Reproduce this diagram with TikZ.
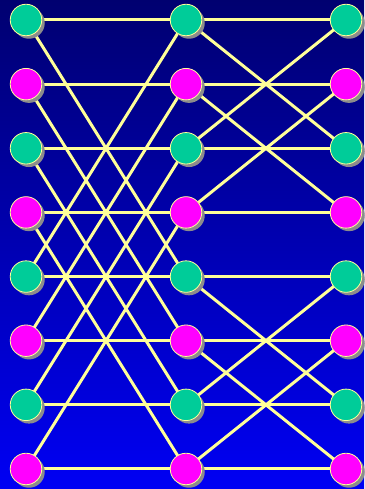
\documentclass[tikz,border=0pt]{standalone}
\usetikzlibrary{shadows}
\definecolor{gnode}{HTML}{00CC99}
\definecolor{mnode}{HTML}{FF00FF}
\definecolor{wire}{HTML}{FFFF99}
\definecolor{bgtop}{HTML}{000070}
\definecolor{bgbot}{HTML}{0000F4}
\definecolor{shad}{HTML}{8C8C8C}
\tikzset{
  dot/.style={circle, minimum size=31.5pt, inner sep=0pt, draw=wire, line width=0.8pt,
    drop shadow={shadow xshift=3pt, shadow yshift=-3pt, fill=shad, opacity=1}},
  gdot/.style={dot, fill=gnode},
  mdot/.style={dot, fill=mnode},
  wireline/.style={draw=wire, line width=3pt}
}
\begin{document}
\begin{tikzpicture}[x=1pt,y=-1pt]
\shade[top color=bgtop, bottom color=bgbot] (0,0) rectangle (364,489);
\useasboundingbox (0,0) rectangle (364,489);
\foreach \c/\x in {L/26,M/186,R/346}{
  \foreach \i in {0,...,7}{
    \pgfmathsetmacro{\yy}{20+64.14*\i}
    \coordinate (\c\i) at (\x,\yy);
  }
}
% wires
\foreach \a/\b in {0/0,0/4,1/1,1/5,2/2,2/6,3/3,3/7,4/4,4/0,5/5,5/1,6/6,6/2,7/7,7/3}
  \draw[wireline] (L\a) -- (M\b);
\foreach \a/\b in {0/0,0/2,1/1,1/3,2/2,2/0,3/3,3/1,4/4,4/6,5/5,5/7,6/6,6/4,7/7,7/5}
  \draw[wireline] (M\a) -- (R\b);
% nodes
\foreach \c in {L,M,R}{
  \foreach \i in {0,2,4,6}{
    \node[gdot] (n\c\i) at (\c\i) {};
  }
  \foreach \i in {1,3,5,7}{
    \node[mdot] (n\c\i) at (\c\i) {};
  }
}
\end{tikzpicture}
\end{document}
